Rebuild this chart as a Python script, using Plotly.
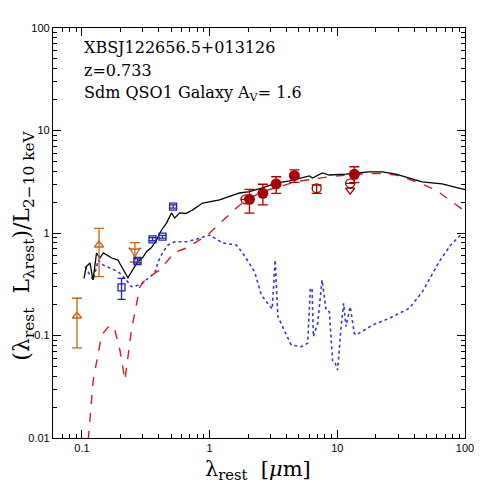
import plotly.graph_objects as go

# total model (black solid)
total_x = [0.1037, 0.108, 0.1155, 0.122, 0.130, 0.138, 0.147, 0.156, 0.171, 0.191, 0.21, 0.229,
           0.25, 0.274, 0.30, 0.32, 0.35, 0.384, 0.420, 0.459, 0.502, 0.533, 0.583, 0.65, 0.736,
           0.882, 1.197, 1.714, 2.05, 2.59, 3.32, 4.22, 6.04, 6.38, 7.64, 8.66, 11.7, 17.8, 22.5,
           28.8, 46.1, 66.1, 100]
total_y = [0.361, 0.47, 0.51, 0.348, 0.638, 0.570, 0.64, 0.610, 0.570, 0.545, 0.45, 0.366,
           0.44, 0.525, 0.58, 0.657, 0.72, 0.855, 1.07, 1.25, 1.57, 1.40, 1.57, 1.55, 1.68,
           1.96, 2.10, 2.456, 2.53, 2.75, 3.07, 3.22, 3.60, 3.44, 3.85, 3.68, 3.76, 3.94, 3.94,
           3.76, 3.15, 3.01, 2.65]

# QSO1 template (red dashed)
qso_x = [0.112, 0.1225, 0.1425, 0.1655, 0.181, 0.198, 0.217, 0.244, 0.284, 0.32, 0.407, 0.487,
         0.514, 0.549, 0.658, 0.835, 1.0, 1.617, 1.935, 2.59, 4.76, 8.66, 14.0, 21.3, 28.8,
         41.2, 59.0, 94.8, 100]
qso_y = [0.0096, 0.0368, 0.101, 0.1265, 0.113, 0.0722, 0.0368, 0.113, 0.299, 0.361, 0.436, 0.570,
         0.638, 0.657, 0.714, 0.855, 1.0, 1.754, 2.10, 2.53, 3.17, 3.54, 3.74, 3.82, 3.68,
         3.17, 2.63, 1.71, 1.65]

# Sdm galaxy template (blue dotted)
gal_x = [0.1055, 0.1225, 0.134, 0.1466, 0.1655, 0.192, 0.217, 0.244, 0.284, 0.32, 0.372, 0.395,
         0.432, 0.472, 0.533, 0.658, 0.787, 1.0, 1.264, 1.617, 1.82, 2.25, 2.54, 3.09, 3.26,
         3.42, 4.35, 5.2, 5.86, 6.15, 6.34, 6.49, 7.02, 7.59, 8.16, 8.66, 9.19, 9.64, 10.05,
         10.7, 11.2, 11.7, 12.6, 13.6, 14.0, 18.9, 25.5, 36.5, 46.4, 62.7, 77.3, 92.5, 95.3]
gal_y = [0.469, 0.348, 0.545, 0.488, 0.456, 0.419, 0.361, 0.299, 0.311, 0.348, 0.407, 0.525,
         0.657, 0.764, 0.822, 0.822, 0.868, 0.956, 0.799, 0.764, 0.634, 0.419, 0.248, 0.181, 0.545,
         0.153, 0.0808, 0.0778, 0.0839, 0.289, 0.289, 0.0973, 0.1315, 0.348, 0.1774, 0.1706,
         0.0555, 0.0535, 0.046, 0.122, 0.206, 0.122, 0.191, 0.105, 0.101, 0.1265, 0.147, 0.184,
         0.267, 0.525, 0.764, 0.956, 0.997]

# UV photometry (orange)
uv_x = [0.0914, 0.136]
uv_y = [0.155, 0.764]
uv_hi = [0.231, 1.11]
uv_lo = [0.0758, 0.375]
uvlim_x = [0.2596]
uvlim_y = [0.657]
uvlim_hi = [0.804]
uvlim_lo = [0.521]

# optical photometry (blue squares)
opt_x = [0.204, 0.272, 0.357, 0.427, 0.517]
opt_y = [0.295, 0.533, 0.868, 0.92, 1.81]
opt_hi = [0.361, 0.56, 0.90, 0.95, 1.88]
opt_lo = [0.225, 0.51, 0.84, 0.89, 1.75]

# NIR/MIR photometry (red filled)
ir_x = [2.05, 2.61, 3.32, 4.61, 13.6]
ir_y = [2.13, 2.44, 3.01, 3.62, 3.74]
ir_hi = [2.67, 2.99, 3.54, 4.12, 4.43]
ir_lo = [1.56, 1.88, 2.44, 3.12, 3.10]

# open red points
iro_x = [1.91, 6.89, 12.6]
iro_y = [2.13, 2.73, 3.05]
iro_hi = [2.13, 2.94, 3.05]
iro_lo = [2.13, 2.44, 3.05]
irlim_x = [12.6]
irlim_y = [2.62]

xticks = [0.1, 1, 10, 100]
xtext = ["0.1", "1", "10", "100"]
yticks = [0.01, 0.1, 1, 10, 100]
ytext = ["0.01", "0.1", "1", "10", "100"]


def errs(y, hi, lo):
    return dict(type="data", symmetric=False,
                array=[h - v for v, h in zip(y, hi)],
                arrayminus=[v - l for v, l in zip(y, lo)])


orange = "#c8641e"
navy = "#2323a8"
red = "#a80000"

fig = go.Figure()
fig.add_trace(go.Scatter(x=gal_x, y=gal_y, mode="lines",
                         line=dict(color="#3a3ac8", width=1.6, dash="dot")))
fig.add_trace(go.Scatter(x=qso_x, y=qso_y, mode="lines",
                         line=dict(color="#cc2020", width=1.4, dash="dash")))
fig.add_trace(go.Scatter(x=total_x, y=total_y, mode="lines",
                         line=dict(color="black", width=1.3)))

e = errs(uv_y, uv_hi, uv_lo)
e.update(color=orange, thickness=1.3, width=5)
fig.add_trace(go.Scatter(x=uv_x, y=uv_y, mode="markers", error_y=e,
                         marker=dict(symbol="triangle-up-open", size=8, color=orange,
                                     line=dict(width=1.3, color=orange))))
e = errs(uvlim_y, uvlim_hi, uvlim_lo)
e.update(color=orange, thickness=1.3, width=5)
fig.add_trace(go.Scatter(x=uvlim_x, y=uvlim_y, mode="markers", error_y=e,
                         marker=dict(symbol="star-triangle-down-open", size=9, color=orange,
                                     line=dict(width=1.3, color=orange))))

e = errs(opt_y, opt_hi, opt_lo)
e.update(color=navy, thickness=1.3, width=4)
fig.add_trace(go.Scatter(x=opt_x, y=opt_y, mode="markers", error_y=e,
                         marker=dict(symbol="square-open", size=7, color=navy,
                                     line=dict(width=1.3, color=navy))))

e = errs(iro_y, iro_hi, iro_lo)
e.update(color=red, thickness=1.3, width=5)
fig.add_trace(go.Scatter(x=iro_x, y=iro_y, mode="markers", error_y=e,
                         marker=dict(symbol="circle-open", size=9, color=red,
                                     line=dict(width=1.3, color=red))))
fig.add_trace(go.Scatter(x=irlim_x, y=irlim_y, mode="markers",
                         marker=dict(symbol="triangle-down-open", size=8, color=red,
                                     line=dict(width=1.3, color=red))))

e = errs(ir_y, ir_hi, ir_lo)
e.update(color=red, thickness=1.3, width=5)
fig.add_trace(go.Scatter(x=ir_x, y=ir_y, mode="markers", error_y=e,
                         marker=dict(symbol="circle", size=11, color=red)))

axis = dict(type="log", showline=True, linecolor="black", linewidth=1.3, mirror="allticks",
            ticks="inside", ticklen=8, tickcolor="black", tickwidth=1, showgrid=False,
            zeroline=False, automargin=False,
            tickfont=dict(family="Liberation Sans", size=11, color="black"),
            minor=dict(ticks="inside", ticklen=4, tickcolor="black", tickwidth=1,
                       dtick="D1", showgrid=False))

fig.update_xaxes(axis, range=[-1.227, 2], tickvals=xticks, ticktext=xtext)
fig.update_yaxes(axis, range=[-2, 2], tickvals=yticks, ticktext=ytext)

fig.add_annotation(text="λ<sub>rest</sub>  [<i>μ</i>m]", xref="paper", yref="paper",
                   x=0.498, y=-0.078, xanchor="center", yanchor="middle", showarrow=False,
                   font=dict(family="DejaVu Serif", size=21, color="black"))
fig.add_annotation(text="(λ<sub>rest</sub>  L<sub>λrest</sub>)/L<sub>2−10 keV</sub>",
                   xref="paper", yref="paper", x=-0.072, y=0.47, textangle=-90,
                   xanchor="center", yanchor="middle", showarrow=False,
                   font=dict(family="DejaVu Serif", size=22, color="black"))

lines = ["XBSJ122656.5+013126", "z=0.733", "Sdm QSO1 Galaxy A<sub>V</sub>= 1.6"]
for i, t in enumerate(lines):
    fig.add_annotation(text=t, xref="paper", yref="paper", x=0.07, y=0.952 - 0.056 * i,
                       xanchor="left", yanchor="middle", showarrow=False,
                       font=dict(family="DejaVu Serif", size=16, color="black"))

# page body has an 8px margin, so the figure is 8px smaller than the window
fig.update_layout(width=483, height=483, showlegend=False,
                  margin=dict(l=45, r=26, t=20, b=53),
                  paper_bgcolor="white", plot_bgcolor="white")
fig.write_html("out.html")
